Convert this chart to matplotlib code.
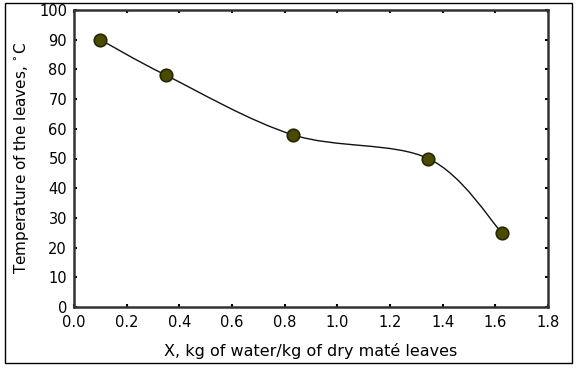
import numpy as np
import matplotlib
matplotlib.use("Agg")
import matplotlib.pyplot as plt
from matplotlib.path import Path
from matplotlib.patches import PathPatch, Rectangle

# moisture content vs leaf temperature
x_moist = [0.10, 0.35, 0.83, 1.345, 1.625]
temp = [90, 78, 58, 50, 25]

x_ticks = [0.0, 0.2, 0.4, 0.6, 0.8, 1.0, 1.2, 1.4, 1.6, 1.8]
y_ticks = [0, 10, 20, 30, 40, 50, 60, 70, 80, 90, 100]

plt.rcParams['font.family'] = ['DejaVu Sans']

fig = plt.figure(figsize=(5.78, 3.68), dpi=100)
ax = fig.add_axes([74/578, 1-307/368, (548-74)/578, (307-10)/368])

# smooth curve through points (catmull-rom as bezier segments)
pts = np.column_stack([x_moist, temp]).astype(float)
verts = [tuple(pts[0])]
codes = [Path.MOVETO]
n = len(pts)
for i in range(n - 1):
    p0 = pts[i - 1] if i > 0 else pts[i]
    p1 = pts[i]
    p2 = pts[i + 1]
    p3 = pts[i + 2] if i + 2 < n else pts[i + 1]
    c1 = p1 + (p2 - p0) / 6
    c2 = p2 - (p3 - p1) / 6
    verts += [tuple(c1), tuple(c2), tuple(p2)]
    codes += [Path.CURVE4] * 3
ax.add_patch(PathPatch(Path(verts, codes), facecolor='none', edgecolor='#111111', lw=1.0))

ax.plot(x_moist, temp, 'o', ms=9, mfc='#4a4a00', mec='#262600', mew=1.2, zorder=3)

ax.set_xlim(0, 1.8)
ax.set_ylim(0, 100)
ax.set_xticks(x_ticks)
ax.set_xticklabels(['%.1f' % v for v in x_ticks])
ax.set_yticks(y_ticks)
ax.tick_params(direction='in', length=2, width=1.5, top=True, right=True,
               labelsize=10.5, colors='#000000')
ax.tick_params(axis='x', pad=6)
ax.tick_params(axis='y', pad=5)
for s in ax.spines.values():
    s.set_linewidth(1.8)
    s.set_color('#333333')

ax.set_xlabel('X, kg of water/kg of dry maté leaves', fontsize=11.5, labelpad=9)
ax.set_ylabel('Temperature of the leaves, $^{\\circ}$C', fontsize=11, labelpad=6)

fig.patches.append(Rectangle((5/578, 1-363/368), (572-5)/578, (363-3)/368,
                             transform=fig.transFigure, fill=False, ec='black', lw=1))

fig.savefig('out.png', dpi=100)
